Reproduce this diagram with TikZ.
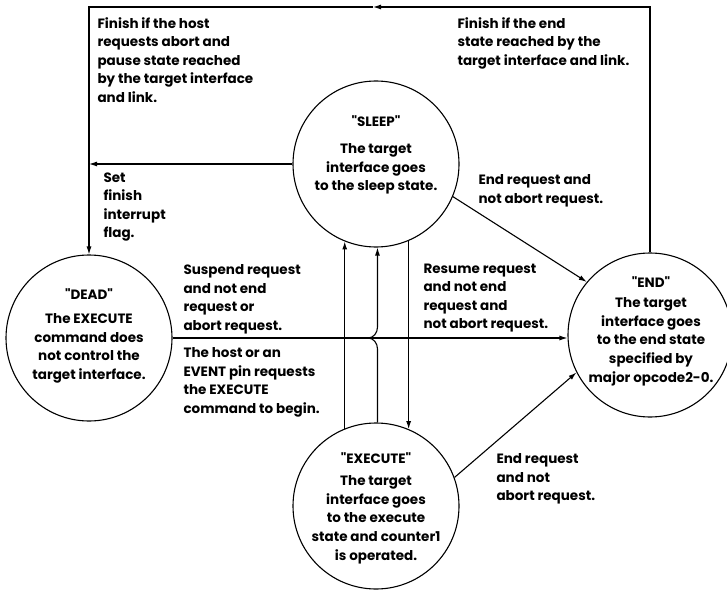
\documentclass[tikz,border=0pt]{standalone}
\usepackage{fontspec}
\setmainfont{Poppins}
\usetikzlibrary{arrows.meta}

\begin{document}
\begin{tikzpicture}[x=1pt,y=1pt,line width=1.1pt,>={Latex[length=8pt,width=5pt]},
  state/.style={circle,draw,minimum size=166pt,inner sep=0pt},
  txt/.style={anchor=north west,inner sep=0pt,align=left,font=\bfseries\fontsize{13.5}{18.5}\selectfont},
  ctxt/.style={anchor=north,inner sep=0pt,align=center,font=\bfseries\fontsize{13.5}{18.7}\selectfont}]
  \useasboundingbox (0,0) rectangle (727,590);
  % the four states
  \node[state] (dead) at (89,252) {};
  \node[state] (sleep) at (376,426) {};
  \node[state] (execute) at (376,84) {};
  \node[state,minimum size=164pt] (end) at (650,255) {};
  \node[ctxt] (deadttl) at (89,302) {\textquotedbl DEAD\textquotedbl};
  \node[ctxt] (deadtxt) at (89,277) {The EXECUTE\\command does\\not control the\\target interface.};
  \node[ctxt] (sleepttl) at (376,475) {\textquotedbl SLEEP\textquotedbl};
  \node[ctxt] (sleeptxt) at (376,447) {The target\\interface goes\\to the sleep state.};
  \node[ctxt] (endttl) at (651,314) {\textquotedbl END\textquotedbl};
  \node[ctxt] (endtxt) at (651,293) {The target\\interface goes\\to the end state\\specified by\\major opcode2-0.};
  \node[ctxt] (exettl) at (376,138) {\textquotedbl EXECUTE\textquotedbl};
  \node[ctxt] (exetxt) at (376,115) {The target\\interface goes\\to the execute\\state and counter1\\is operated.};
  % transition labels
  \node[txt] (finabort) at (97,573) {Finish if the host\\requests abort and\\pause state reached\\by the target interface\\and link.};
  \node[txt] (finend) at (457,573) {Finish if the end\\state reached by the\\target interface and link.};
  \node[txt] (setflag) at (103,418) {Set\\finish\\interrupt\\flag.};
  \node[txt] (sleepend) at (478,416) {End request and\\not abort request.};
  \node[txt] (suspend) at (183,326) {Suspend request\\and not end\\request or\\abort request.};
  \node[txt] (begin) at (183,243) {The host or an\\EVENT pin requests\\the EXECUTE\\command to begin.};
  \node[txt] (resume) at (423,327) {Resume request\\and not end\\request and\\not abort request.};
  \node[txt] (exeend) at (496,137) {End request\\and not\\abort request.};
  % transitions
  \coordinate (topmid) at (373,583);
  \draw[->] (end.north) |- (topmid);
  \draw[->] (topmid) -| (dead.north);
  \draw[->] (sleep.west) -- (sleep.west -| dead.north);
  \draw[->] (dead.east) -- (dead.east -| end.west);
  \draw[->] (execute.112) -- (sleep.-112);
  \draw[->] (execute.89) -- (377.5,241) to[out=90,in=0] (368,252)
     to[out=0,in=-90] (377.5,263) -- (sleep.-89);
  \draw[->] (sleep.-67) -- (execute.67);
  \draw[->] (sleep.-23) -- (end.140);
  \draw[->] (execute.20) -- (end.207);
\end{tikzpicture}
\end{document}
